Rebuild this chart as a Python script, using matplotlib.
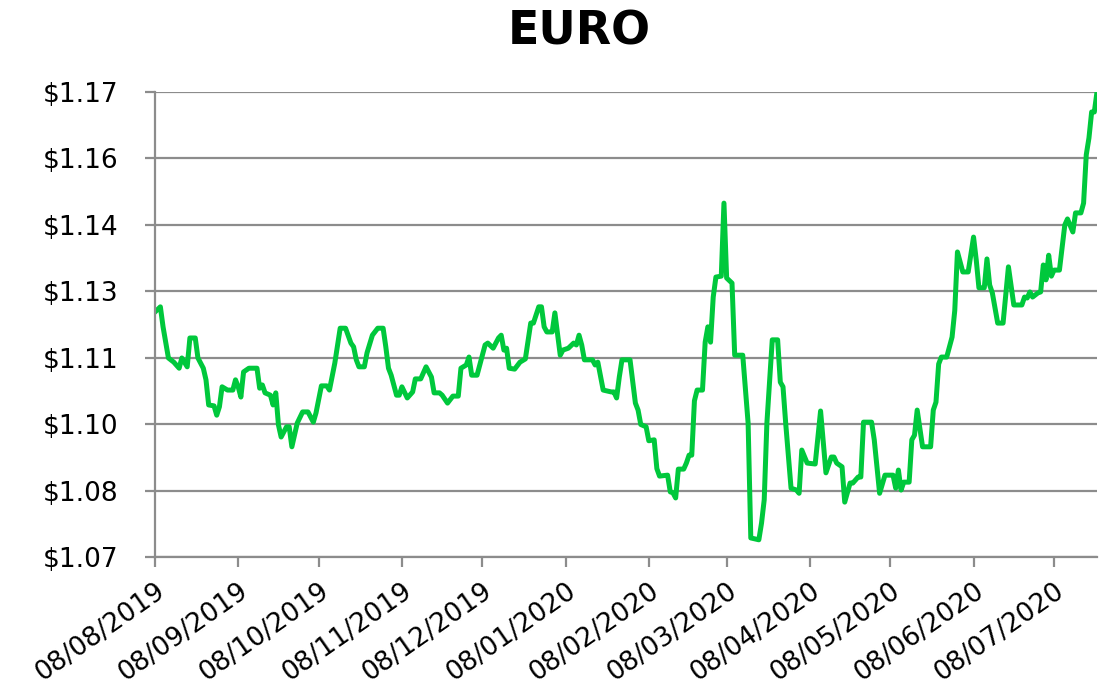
import datetime as dt
import matplotlib
matplotlib.use("Agg")
import matplotlib.pyplot as plt
import matplotlib.dates as mdates
from matplotlib.ticker import FixedLocator, FuncFormatter

# days since 08/08/2019 and EUR/USD rate
start = dt.date(2019, 8, 8)
days = [0, 2, 3, 5, 7, 9, 10, 12, 13, 15, 16, 18, 19, 20, 22, 23, 24, 25, 27, 29,
        30, 31, 32, 33, 35, 38, 39, 40, 41, 43, 44, 45, 46, 47, 49, 50, 51, 53, 55, 57,
        59, 60, 62, 64, 65, 67, 69, 71, 73, 74, 75, 76, 78, 79, 81, 83, 85, 86, 87, 88,
        90, 91, 92, 94, 96, 97, 99, 101, 103, 104, 106, 107, 109, 111, 113, 114, 116, 117, 118, 120,
        123, 124, 126, 128, 129, 130, 131, 132, 134, 136, 138, 140, 141, 143, 144, 145, 146, 148, 149, 151,
        152, 154, 156, 157, 158, 159, 160, 163, 164, 165, 167, 170, 171, 172, 173, 174, 177, 179, 180, 181,
        183, 184, 186, 187, 188, 191, 192, 193, 194, 195, 197, 198, 199, 200, 201, 202, 204, 205, 206, 207,
        208, 209, 211, 212, 213, 215, 216, 219, 221, 222, 225, 226, 227, 228, 230, 232, 233, 234, 235, 237,
        239, 240, 241, 243, 246, 248, 250, 252, 253, 254, 256, 257, 259, 260, 262, 263, 264, 267, 268, 270,
        272, 275, 276, 277, 278, 279, 281, 282, 283, 284, 286, 289, 290, 291, 292, 293, 295, 297, 298, 299,
        301, 303, 305, 306, 307, 309, 310, 311, 312, 314, 316, 318, 320, 323, 324, 325, 326, 327, 329, 330,
        331, 332, 333, 334, 335, 337, 339, 340, 342, 343, 345, 346, 347, 348, 349, 350, 351]
rate = [1.1227, 1.1238, 1.1195, 1.1128, 1.1119, 1.1106, 1.1128, 1.1109, 1.1171, 1.1171,
        1.1128, 1.1106, 1.1081, 1.1027, 1.1025, 1.1005, 1.1023, 1.1066, 1.1059, 1.1059,
        1.1081, 1.1066, 1.1044, 1.1098, 1.1106, 1.1106, 1.1063, 1.1070, 1.1053, 1.1048,
        1.1027, 1.1053, 1.0984, 1.0958, 1.0980, 1.0980, 1.0937, 1.0988, 1.1012, 1.1012,
        1.0990, 1.1010, 1.1068, 1.1068, 1.1059, 1.1117, 1.1192, 1.1192, 1.1160, 1.1152,
        1.1124, 1.1109, 1.1109, 1.1139, 1.1177, 1.1192, 1.1192, 1.1152, 1.1106, 1.1091,
        1.1048, 1.1048, 1.1066, 1.1042, 1.1055, 1.1083, 1.1083, 1.1109, 1.1087, 1.1053,
        1.1053, 1.1048, 1.1031, 1.1046, 1.1046, 1.1106, 1.1113, 1.1130, 1.1091, 1.1091,
        1.1156, 1.1160, 1.1149, 1.1171, 1.1177, 1.1145, 1.1149, 1.1106, 1.1104, 1.1119,
        1.1126, 1.1203, 1.1203, 1.1238, 1.1238, 1.1195, 1.1184, 1.1184, 1.1225, 1.1134,
        1.1145, 1.1149, 1.1160, 1.1156, 1.1177, 1.1156, 1.1124, 1.1124, 1.1113, 1.1119,
        1.1059, 1.1055, 1.1055, 1.1042, 1.1087, 1.1124, 1.1124, 1.1031, 1.1016, 1.0985,
        1.0980, 1.0950, 1.0952, 1.0890, 1.0874, 1.0876, 1.0840, 1.0838, 1.0827, 1.0889,
        1.0889, 1.0902, 1.0919, 1.0919, 1.1036, 1.1059, 1.1059, 1.1162, 1.1195, 1.1162,
        1.1259, 1.1302, 1.1304, 1.1461, 1.1300, 1.1289, 1.1134, 1.1134, 1.0988, 1.0741,
        1.0737, 1.0773, 1.0823, 1.0988, 1.1167, 1.1167, 1.1076, 1.1066, 1.0988, 1.0848,
        1.0844, 1.0837, 1.0930, 1.0902, 1.0900, 1.1014, 1.0881, 1.0915, 1.0915, 1.0902,
        1.0894, 1.0818, 1.0859, 1.0859, 1.0872, 1.0872, 1.0990, 1.0990, 1.0952, 1.0837,
        1.0876, 1.0876, 1.0848, 1.0887, 1.0844, 1.0861, 1.0861, 1.0952, 1.0962, 1.1016,
        1.0937, 1.0937, 1.1016, 1.1033, 1.1115, 1.1130, 1.1130, 1.1173, 1.1230, 1.1356,
        1.1313, 1.1313, 1.1388, 1.1339, 1.1279, 1.1279, 1.1341, 1.1285, 1.1268, 1.1203,
        1.1203, 1.1324, 1.1242, 1.1242, 1.1259, 1.1257, 1.1270, 1.1259, 1.1268, 1.1270,
        1.1328, 1.1296, 1.1349, 1.1304, 1.1317, 1.1317, 1.1414, 1.1427, 1.1399, 1.1440,
        1.1440, 1.1461, 1.1565, 1.1601, 1.1657, 1.1657, 1.1700]

dates = [start + dt.timedelta(days=d) for d in days]
tick_dates = [dt.date(2019, m, 8) for m in range(8, 13)] + [dt.date(2020, m, 8) for m in range(1, 8)]

fig = plt.figure(figsize=(10.99, 6.90), dpi=100)
ax = fig.add_axes([155 / 1099, 133 / 690, 942 / 1099, 465 / 690])

ax.plot(dates, rate, color="#00C83C", linewidth=3.6, solid_joinstyle="round")

ax.set_xlim(dates[0], dates[-1])
ax.set_ylim(1.07, 1.17)
yt = [1.07 + i * 0.1 / 7 for i in range(8)]
ax.yaxis.set_major_locator(FixedLocator(yt))
ax.yaxis.set_major_formatter(FuncFormatter(lambda v, p: "${:.2f}".format(v)))
ax.set_xticks(tick_dates)
ax.xaxis.set_major_formatter(mdates.DateFormatter("%d/%m/%Y"))

ax.grid(axis="y", color="#8c8c8c", linewidth=1.6)
ax.set_axisbelow(True)
for s in ["top", "right"]:
    ax.spines[s].set_visible(False)
for s in ["left", "bottom"]:
    ax.spines[s].set_color("#8c8c8c")
    ax.spines[s].set_linewidth(1.6)
ax.tick_params(axis="both", colors="#8c8c8c", width=1.6, length=7, labelsize=19,
               labelcolor="black")
ax.tick_params(axis="y", pad=19.5)
ax.tick_params(axis="x", pad=8)
plt.setp(ax.get_xticklabels(), rotation=35, ha="right", rotation_mode="anchor")

fig.text(579 / 1099, 1 - 32 / 690, "EURO", fontsize=33, fontweight="bold",
         ha="center", va="center")

fig.savefig("out.png", dpi=100)
